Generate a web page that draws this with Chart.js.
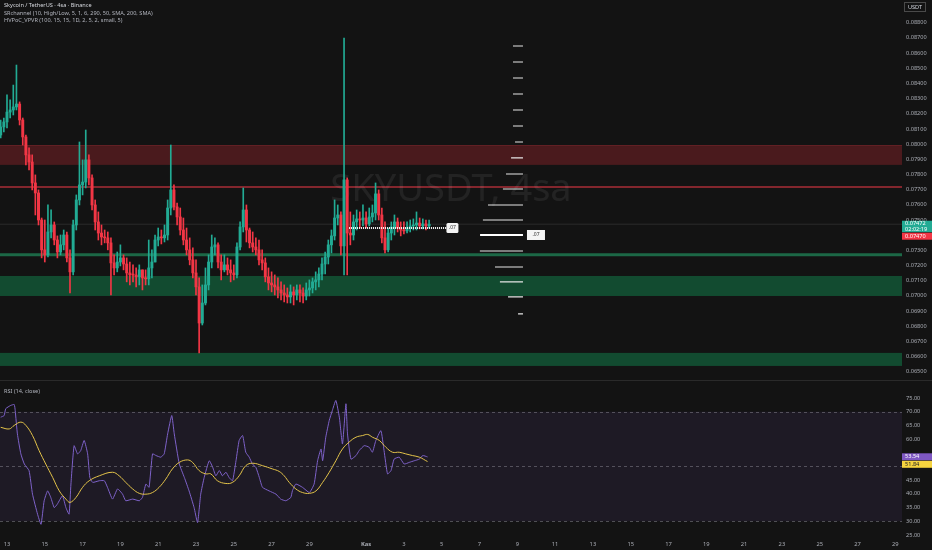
<!DOCTYPE html>
<html>
<head>
<meta charset="utf-8">
<title>SKYUSDT 4sa</title>
<script src="https://cdn.jsdelivr.net/npm/chart.js@4.4.1/dist/chart.umd.min.js"></script>
<style>
  html, body { margin: 0; padding: 0; background: #131313; }
  #wrap { position: relative; width: 932px; height: 550px; background: #131313; overflow: hidden; font-family: 'Noto Sans', sans-serif; }
  #main-box { position: absolute; left: 0; top: 0; width: 932px; height: 380px; }
  #rsi-box { position: absolute; left: 0; top: 380px; width: 932px; height: 170px; }
  #sep { position: absolute; left: 0; top: 380px; width: 932px; height: 1px; background: #2a2a2a; }
  .leg { position: absolute; left: 4px; font-size: 5.6px; line-height: 7px; color: #b2b5be; white-space: nowrap; }
  .leg.title { color: #d6d8de; }
</style>
</head>
<body>
<div id="wrap">
  <div id="main-box"><canvas id="main"></canvas></div>
  <div id="rsi-box"><canvas id="rsi"></canvas></div>
  <div id="sep"></div>
  <div class="leg title" style="top:2px">Skycoin / TetherUS · 4sa · Binance</div>
  <div class="leg" style="top:10px">SRchannel (10, High/Low, 5, 1, 6, 290, 50, SMA, 200, SMA)</div>
  <div class="leg" style="top:17px">HVPoC_VPVR (100, 15, 15, 1D, 2, 5, 2, small, 5)</div>
  <div class="leg" style="top:388px">RSI (14, close)</div>
</div>
<script>
// 4h candles, first one opens Oct 12 16:00 (x axis counts days from Oct 12 00:00)
const startDay = 0.6667;
const candleStep = 1 / 6;
const firstOpen = 0.08060;

const closes = [
  0.08113, 0.08146, 0.08211, 0.08225, 0.08245, 0.08264, 0.08159, 0.08047, 0.07929, 0.07882,
  0.07744, 0.07678, 0.07500, 0.07303, 0.07270, 0.07421, 0.07467, 0.07368, 0.07289, 0.07336,
  0.07401, 0.07250, 0.07158, 0.07467, 0.07632, 0.07731, 0.07750, 0.07896, 0.07777, 0.07599,
  0.07487, 0.07414, 0.07388, 0.07382, 0.07349, 0.07217, 0.07184, 0.07223, 0.07250, 0.07210,
  0.07151, 0.07138, 0.07137, 0.07125, 0.07171, 0.07118, 0.07112, 0.07184, 0.07223, 0.07368,
  0.07388, 0.07382, 0.07401, 0.07579, 0.07698, 0.07586, 0.07520, 0.07434, 0.07368, 0.07303,
  0.07237, 0.07151, 0.07059, 0.06821, 0.06953, 0.07072, 0.07223, 0.07322, 0.07336, 0.07223,
  0.07171, 0.07204, 0.07171, 0.07151, 0.07138, 0.07322, 0.07454, 0.07566, 0.07434, 0.07349,
  0.07322, 0.07303, 0.07237, 0.07217, 0.07125, 0.07085, 0.07072, 0.07059, 0.07039, 0.07019,
  0.07006, 0.06993, 0.07026, 0.07006, 0.07039, 0.07019, 0.06999, 0.07039, 0.07052, 0.07092,
  0.07105, 0.07144, 0.07210, 0.07256, 0.07336, 0.07395, 0.07513, 0.07533, 0.07329, 0.07764,
  0.07414, 0.07401, 0.07487, 0.07507, 0.07500, 0.07513, 0.07474, 0.07520, 0.07546, 0.07672,
  0.07533, 0.07382, 0.07303, 0.07414, 0.07454, 0.07487, 0.07447, 0.07434, 0.07428, 0.07447,
  0.07461, 0.07467, 0.07480, 0.07461, 0.07474, 0.07461, 0.07472
];

const highs = [
  0.08159, 0.08172, 0.08324, 0.08291, 0.08389, 0.08521, 0.08278, 0.08172, 0.08060, 0.07975,
  0.07929, 0.07797, 0.07698, 0.07513, 0.07500, 0.07599, 0.07566, 0.07487, 0.07395, 0.07401,
  0.07434, 0.07421, 0.07303, 0.07500, 0.07665, 0.08014, 0.07896, 0.08093, 0.07929, 0.07797,
  0.07632, 0.07553, 0.07467, 0.07434, 0.07421, 0.07382, 0.07270, 0.07289, 0.07336, 0.07270,
  0.07250, 0.07223, 0.07204, 0.07184, 0.07204, 0.07171, 0.07171, 0.07368, 0.07303, 0.07401,
  0.07447, 0.07434, 0.07467, 0.07632, 0.07994, 0.07731, 0.07612, 0.07579, 0.07513, 0.07447,
  0.07382, 0.07316, 0.07237, 0.07118, 0.07072, 0.07184, 0.07270, 0.07401, 0.07382, 0.07349,
  0.07270, 0.07270, 0.07250, 0.07237, 0.07204, 0.07349, 0.07487, 0.07711, 0.07599, 0.07447,
  0.07421, 0.07382, 0.07368, 0.07303, 0.07250, 0.07184, 0.07158, 0.07138, 0.07118, 0.07092,
  0.07072, 0.07052, 0.07072, 0.07059, 0.07072, 0.07072, 0.07052, 0.07085, 0.07105, 0.07118,
  0.07158, 0.07184, 0.07250, 0.07289, 0.07368, 0.07434, 0.07632, 0.07599, 0.07553, 0.08699,
  0.07777, 0.07553, 0.07533, 0.07566, 0.07553, 0.07599, 0.07553, 0.07579, 0.07599, 0.07744,
  0.07698, 0.07579, 0.07487, 0.07447, 0.07487, 0.07533, 0.07513, 0.07487, 0.07487, 0.07487,
  0.07500, 0.07507, 0.07553, 0.07513, 0.07507, 0.07500, 0.07500
];

const lows = [
  0.08040, 0.08080, 0.08106, 0.08172, 0.08192, 0.08225, 0.08126, 0.07994, 0.07863, 0.07830,
  0.07698, 0.07533, 0.07467, 0.07250, 0.07223, 0.07256, 0.07382, 0.07336, 0.07250, 0.07270,
  0.07303, 0.07223, 0.07019, 0.07138, 0.07434, 0.07599, 0.07665, 0.07711, 0.07731, 0.07566,
  0.07434, 0.07368, 0.07336, 0.07349, 0.07303, 0.07006, 0.07138, 0.07158, 0.07197, 0.07171,
  0.07092, 0.07072, 0.07092, 0.07059, 0.07072, 0.07039, 0.07072, 0.07072, 0.07118, 0.07223,
  0.07329, 0.07342, 0.07355, 0.07368, 0.07533, 0.07566, 0.07467, 0.07401, 0.07336, 0.07270,
  0.07204, 0.07118, 0.07006, 0.06624, 0.06808, 0.06940, 0.07039, 0.07184, 0.07270, 0.07184,
  0.07105, 0.07158, 0.07138, 0.07092, 0.07105, 0.07118, 0.07303, 0.07421, 0.07355, 0.07316,
  0.07289, 0.07270, 0.07204, 0.07171, 0.07092, 0.07039, 0.07026, 0.07006, 0.06986, 0.06973,
  0.06960, 0.06953, 0.06953, 0.06940, 0.06973, 0.06960, 0.06953, 0.06973, 0.06999, 0.07019,
  0.07039, 0.07059, 0.07105, 0.07144, 0.07210, 0.07283, 0.07368, 0.07467, 0.07270, 0.07138,
  0.07138, 0.07336, 0.07368, 0.07434, 0.07447, 0.07461, 0.07447, 0.07461, 0.07487, 0.07500,
  0.07500, 0.07349, 0.07283, 0.07289, 0.07368, 0.07401, 0.07421, 0.07395, 0.07408, 0.07414,
  0.07421, 0.07434, 0.07434, 0.07441, 0.07441, 0.07434, 0.07447
];

// RSI(14) and its moving average, read at candle positions (index) off the picture
const rsiIdx = [0, 1.1, 1.6, 3.2, 4.3, 4.6, 5.3, 6.4, 7.5, 9.0, 10.1, 11.7, 12.8, 13.8, 14.9, 15.9, 17.0, 18.0, 19.6, 20.7,
  21.7, 22.3, 23.3, 24.4, 25.4, 26.5, 27.6, 28.3, 29.2, 31.3, 32.9, 33.9, 35.5, 37.1, 38.7, 39.7, 41.9, 44.0, 45.0, 46.1,
  47.1, 48.2, 49.3, 50.8, 51.9, 53.0, 54.3, 55.1, 56.7, 58.3, 59.8, 61.4, 62.5, 63.5, 64.6, 66.2, 67.3, 68.3, 69.4, 70.4,
  71.5, 72.5, 73.6, 74.7, 75.7, 76.8, 77.8, 78.9, 79.9, 81.0, 82.1, 83.1, 85.2, 87.4, 88.9, 90.5, 92.1, 92.6, 93.7, 95.8,
  98.0, 99.5, 100.6, 101.7, 102.2, 103.2, 104.3, 105.3, 106.4, 107.5, 108.5, 109.6, 110.1, 111.2, 112.8, 113.8, 115.4, 117.0, 118.0, 119.1,
  120.7, 121.7, 122.8, 123.9, 124.9, 126.5, 128.1, 129.7, 131.3, 132.9, 134.0, 135.5];
const rsiVal = [68.0, 68.6, 71.1, 72.3, 72.6, 70.5, 61.9, 54.6, 50.9, 48.5, 39.9, 32.6, 28.9, 37.5, 41.1, 38.7, 35.0, 36.3, 39.3, 35.0,
  32.6, 43.6, 57.6, 54.6, 55.8, 59.5, 54.6, 46.0, 44.2, 44.8, 44.8, 42.4, 38.1, 41.8, 39.9, 37.5, 38.1, 37.5, 38.7, 43.6,
  42.4, 54.6, 54.0, 53.4, 54.6, 61.9, 68.6, 61.9, 50.9, 46.0, 41.1, 35.0, 29.5, 39.9, 46.0, 52.1, 49.7, 46.6, 48.5, 46.6,
  47.9, 46.0, 44.8, 52.1, 59.5, 61.3, 55.2, 53.4, 50.9, 49.7, 46.0, 42.4, 41.1, 39.9, 38.1, 37.5, 38.7, 41.1, 43.6, 42.4,
  40.5, 43.6, 52.1, 56.4, 52.1, 60.7, 66.8, 70.5, 74.1, 68.0, 58.2, 72.9, 61.9, 52.7, 54.0, 55.8, 57.6, 57.0, 55.2, 59.5,
  63.1, 55.8, 47.3, 48.5, 52.7, 53.4, 50.9, 51.5, 52.1, 52.7, 54.0, 53.5];
const maIdx = [0, 2.7, 4.3, 6.4, 8.0, 10.1, 12.2, 14.3, 16.5, 18.6, 20.7, 22.0, 23.9, 26.0, 28.1, 31.3, 35.5, 37.6, 39.7, 41.9,
  44.0, 46.1, 48.2, 50.3, 52.4, 54.5, 56.7, 59.3, 60.9, 63.0, 65.1, 66.7, 68.8, 71.5, 73.6, 75.7, 77.8, 80.0, 83.1, 86.3,
  88.4, 90.0, 91.6, 93.7, 95.8, 98.0, 100.1, 102.2, 104.3, 106.4, 108.5, 110.6, 112.8, 114.9, 116.5, 118.0, 120.2, 122.3, 124.4, 126.5,
  128.6, 130.7, 132.9, 135.5];
const maVal = [64.3, 63.7, 65.0, 66.2, 65.0, 61.3, 55.8, 50.9, 46.0, 41.1, 38.1, 36.9, 38.7, 42.4, 44.8, 46.6, 47.9, 46.6, 44.2, 41.8,
  40.2, 39.9, 40.5, 42.4, 45.4, 49.1, 51.5, 52.4, 51.5, 48.5, 47.3, 47.3, 44.8, 43.8, 44.2, 46.6, 50.3, 51.2, 50.3, 49.1,
  48.2, 46.6, 44.2, 41.8, 40.5, 40.2, 41.1, 44.2, 47.9, 52.1, 56.4, 58.9, 60.7, 61.3, 61.7, 60.7, 59.5, 57.0, 55.2, 55.2,
  54.6, 54.0, 53.4, 51.8];
const rsiLast = 53.54;
const maLast = 51.84;

// SR channel zones and lines
const redZone = [0.07994, 0.07863];
const resistLine = 0.07718;
const supportLine = 0.07270;
const greenZoneTop = [0.07131, 0.06624];
const greenZoneBottom = [0.06999, 0.06538];

// volume profile rows (price, bar length in days) anchored at vpvrRight
const vpvrRight = 28.3;
const vpvrPrices = [0.08646, 0.08541, 0.08436, 0.08330, 0.08225, 0.08119, 0.08014, 0.07909, 0.07803,
  0.07704, 0.07599, 0.07500, 0.07296, 0.07190, 0.07092, 0.06993, 0.06881];
const vpvrLength = [0.53, 0.53, 0.53, 0.53, 0.53, 0.53, 0.42, 0.63, 0.9, 1.06, 1.85, 2.12, 2.28, 1.48, 1.22, 0.79, 0.26];
const pocPrice = 0.07401;
const pocFrom = 26.03;
const dotPrice = 0.07447;
const dotFrom = 19.1;
const dotTo = 24.25;
const markPrice = 0.07470;
const countdown = '02:02:19';

// axis ticks
const priceTicks = [0.065, 0.066, 0.067, 0.068, 0.069, 0.070, 0.071, 0.072, 0.073, 0.075, 0.076, 0.077,
  0.078, 0.079, 0.080, 0.081, 0.082, 0.083, 0.084, 0.085, 0.086, 0.087, 0.088];
const rsiTicks = [25, 30, 35, 40, 45, 60, 65, 70, 75];
const xTickDays = [1, 3, 5, 7, 9, 11, 13, 15, 17, 20, 22, 24, 26, 28, 30, 32, 34, 36, 38, 40, 42, 44, 46, 48];
const xTickLabels = ['13', '15', '17', '19', '21', '23', '25', '27', '29', 'Kas', '3', '5', '7', '9', '11', '13',
  '15', '17', '19', '21', '23', '25', '27', '29'];

const X_MIN = 0.63, X_MAX = 48.354;
const UP = '#22ab94', DOWN = '#f23645';
const AXIS_TXT = '#a9acb4';
const FONT = "'Noto Sans', sans-serif";

// build candles
const opens = closes.map((c, i) => i === 0 ? firstOpen : closes[i - 1]);
const times = closes.map((_, i) => startDay + i * candleStep);
const candleColors = closes.map((c, i) => c >= opens[i] ? UP : DOWN);
const bodies = closes.map((c, i) => ({ x: times[i], y: [opens[i], c] }));
const wicks = closes.map((c, i) => ({
  x: times[i],
  y: [Math.min(lows[i], opens[i], c), Math.max(highs[i], opens[i], c)]
}));

const vpvrData = [];
vpvrPrices.forEach((p, i) => {
  vpvrData.push({ x: vpvrRight - vpvrLength[i], y: p }, { x: vpvrRight, y: p }, { x: vpvrRight, y: null });
});

// axes must not reserve room for half-labels at their ends
function noPad(s) { s.paddingTop = 0; s.paddingBottom = 0; s.paddingLeft = 0; s.paddingRight = 0; }
function fixWidth(w) { return s => { s.width = w; noPad(s); }; }

function tag(ctx, x, y, w, h, bg, fg, lines) {
  ctx.fillStyle = bg;
  ctx.fillRect(x, y, w, h);
  ctx.fillStyle = fg;
  ctx.font = `5.6px ${FONT}`;
  ctx.textAlign = 'left';
  ctx.textBaseline = 'middle';
  lines.forEach((t, i) => ctx.fillText(t, x + 3, y + h / (lines.length * 2) * (2 * i + 1)));
}

const mainOverlay = {
  id: 'mainOverlay',
  beforeDatasetsDraw(chart) {
    const { ctx, chartArea: a, scales: { y } } = chart;
    ctx.save();
    const band = (top, bot, color) => {
      const y1 = y.getPixelForValue(top), y2 = y.getPixelForValue(bot);
      ctx.fillStyle = color;
      ctx.fillRect(a.left, y1, a.width, y2 - y1);
    };
    band(redZone[0], redZone[1], 'rgba(120, 32, 38, 0.55)');
    ctx.fillStyle = 'rgba(150, 50, 55, 0.35)';
    ctx.fillRect(a.left, y.getPixelForValue(redZone[0]), a.width, 1);
    greenZoneTop.forEach((t, i) => band(t, greenZoneBottom[i], 'rgba(18, 110, 66, 0.62)'));

    const hline = (p, color, w) => {
      ctx.strokeStyle = color;
      ctx.lineWidth = w;
      ctx.beginPath();
      ctx.moveTo(a.left, y.getPixelForValue(p));
      ctx.lineTo(a.right, y.getPixelForValue(p));
      ctx.stroke();
    };
    hline(resistLine, 'rgba(170, 45, 55, 0.75)', 2);
    hline(supportLine, 'rgba(30, 120, 80, 0.85)', 3);
    hline(closes[closes.length - 1], 'rgba(255, 255, 255, 0.10)', 1);

    ctx.font = `38px ${FONT}`;
    ctx.fillStyle = 'rgba(255, 255, 255, 0.07)';
    ctx.textAlign = 'center';
    ctx.textBaseline = 'middle';
    ctx.fillText('SKYUSDT, 4sa', (a.left + a.right) / 2, (a.top + a.bottom) / 2);
    ctx.restore();
  },
  afterDatasetsDraw(chart) {
    const { ctx, scales: { x, y } } = chart;
    ctx.save();
    const dx = x.getPixelForValue(dotTo), dy = y.getPixelForValue(dotPrice);
    ctx.fillStyle = '#f4f4f4';
    ctx.beginPath();
    ctx.roundRect(dx, dy - 5, 12, 10, 1.5);
    ctx.fill();
    const px = x.getPixelForValue(vpvrRight) + 4, py = y.getPixelForValue(pocPrice);
    ctx.fillRect(px, py - 5, 18, 10);
    ctx.fillStyle = '#333';
    ctx.font = `5px ${FONT}`;
    ctx.textAlign = 'center';
    ctx.textBaseline = 'middle';
    ctx.fillText('.07', dx + 6, dy);
    ctx.fillText('.07', px + 9, py);
    ctx.restore();
  },
  afterDraw(chart) {
    const { ctx, chartArea: a, scales: { y } } = chart;
    ctx.save();
    const last = closes[closes.length - 1];
    const py = y.getPixelForValue(last);
    tag(ctx, a.right, py - 3.5, 30, 11.5, UP, '#ffffff', [last.toFixed(5), countdown]);
    tag(ctx, a.right, py + 8.5, 30, 7, DOWN, '#ffffff', [markPrice.toFixed(5)]);
    ctx.strokeStyle = '#4a4a4a';
    ctx.lineWidth = 1;
    ctx.strokeRect(904.5, 2.5, 21, 9);
    ctx.fillStyle = '#d1d4dc';
    ctx.font = `5.6px ${FONT}`;
    ctx.textAlign = 'center';
    ctx.textBaseline = 'middle';
    ctx.fillText('USDT', 915, 7.2);
    ctx.restore();
  }
};

new Chart(document.getElementById('main'), {
  type: 'bar',
  data: {
    datasets: [
      { type: 'line', data: vpvrData, borderColor: '#e6e6e6', borderWidth: 1.1, pointRadius: 0, spanGaps: false, order: 0 },
      { type: 'line', data: [{ x: pocFrom, y: pocPrice }, { x: vpvrRight, y: pocPrice }], borderColor: '#ffffff', borderWidth: 2, pointRadius: 0, order: 0 },
      { type: 'line', data: [{ x: dotFrom, y: dotPrice }, { x: dotTo, y: dotPrice }], borderColor: '#ffffff', borderWidth: 2, borderDash: [1, 1], pointRadius: 0, order: 0 },
      { data: bodies, backgroundColor: candleColors, grouped: false, barThickness: 2.3, minBarLength: 1, order: 2 },
      { data: wicks, backgroundColor: candleColors, grouped: false, barThickness: 1, order: 3 }
    ]
  },
  options: {
    responsive: true,
    maintainAspectRatio: false,
    animation: false,
    layout: { padding: 0 },
    plugins: { legend: { display: false }, tooltip: { enabled: false } },
    scales: {
      x: { type: 'linear', min: X_MIN, max: X_MAX, offset: false, display: false },
      y: {
        position: 'right',
        min: 0.064454,
        max: 0.089496,
        afterFit: fixWidth(30),
        afterBuildTicks: s => { s.ticks = priceTicks.map(v => ({ value: v })); },
        grid: { display: false, drawTicks: false },
        border: { display: false },
        ticks: { color: AXIS_TXT, font: { size: 5.6, family: FONT }, padding: 4, callback: v => v.toFixed(5) }
      }
    }
  },
  plugins: [mainOverlay]
});

const rsiOverlay = {
  id: 'rsiOverlay',
  beforeDatasetsDraw(chart) {
    const { ctx, chartArea: a, scales: { y } } = chart;
    ctx.save();
    const y70 = y.getPixelForValue(70), y30 = y.getPixelForValue(30), y50 = y.getPixelForValue(50);
    ctx.fillStyle = 'rgba(126, 87, 194, 0.10)';
    ctx.fillRect(a.left, y70, a.width, y30 - y70);
    ctx.strokeStyle = 'rgba(150, 150, 160, 0.45)';
    ctx.lineWidth = 1;
    ctx.setLineDash([3, 3]);
    [y70, y50, y30].forEach(py => {
      ctx.beginPath();
      ctx.moveTo(a.left, Math.round(py) + 0.5);
      ctx.lineTo(a.right, Math.round(py) + 0.5);
      ctx.stroke();
    });
    ctx.restore();
  },
  afterDraw(chart) {
    const { ctx, chartArea: a, scales: { y } } = chart;
    ctx.save();
    const p1 = y.getPixelForValue(rsiLast);
    tag(ctx, a.right, p1 - 3.5, 30, 7, '#7e57c2', '#ffffff', [rsiLast.toFixed(2)]);
    tag(ctx, a.right, p1 + 4, 30, 7, '#f5d33f', '#222222', [maLast.toFixed(2)]);
    ctx.restore();
  }
};

new Chart(document.getElementById('rsi'), {
  type: 'line',
  data: {
    datasets: [
      {
        data: maIdx.map((v, i) => ({ x: startDay + v * candleStep, y: maVal[i] })),
        borderColor: '#e3c34a', borderWidth: 1, pointRadius: 0, tension: 0.4
      },
      {
        data: rsiIdx.map((v, i) => ({ x: startDay + v * candleStep, y: rsiVal[i] })),
        borderColor: '#7e62c9', borderWidth: 1, pointRadius: 0, tension: 0.15
      }
    ]
  },
  options: {
    responsive: true,
    maintainAspectRatio: false,
    animation: false,
    layout: { padding: 0 },
    plugins: { legend: { display: false }, tooltip: { enabled: false } },
    scales: {
      x: {
        type: 'linear', min: X_MIN, max: X_MAX, offset: false,
        afterFit: s => { s.height = 12; noPad(s); },
        afterBuildTicks: s => { s.ticks = xTickDays.map(v => ({ value: v })); },
        grid: { display: false, drawTicks: false },
        border: { display: false },
        ticks: {
          color: AXIS_TXT, padding: 3, maxRotation: 0, autoSkip: false,
          font: c => ({ size: 5.8, family: FONT, weight: c.tick && c.tick.value === 20 ? 'bold' : 'normal' }),
          callback: v => xTickLabels[xTickDays.indexOf(v)]
        }
      },
      y: {
        position: 'right',
        min: 23.9,
        max: 81.57,
        afterFit: fixWidth(30),
        afterBuildTicks: s => { s.ticks = rsiTicks.map(v => ({ value: v })); },
        grid: { display: false, drawTicks: false },
        border: { display: false },
        ticks: { color: AXIS_TXT, font: { size: 5.6, family: FONT }, padding: 4, callback: v => v.toFixed(2) }
      }
    }
  },
  plugins: [rsiOverlay]
});
</script>
</body>
</html>
